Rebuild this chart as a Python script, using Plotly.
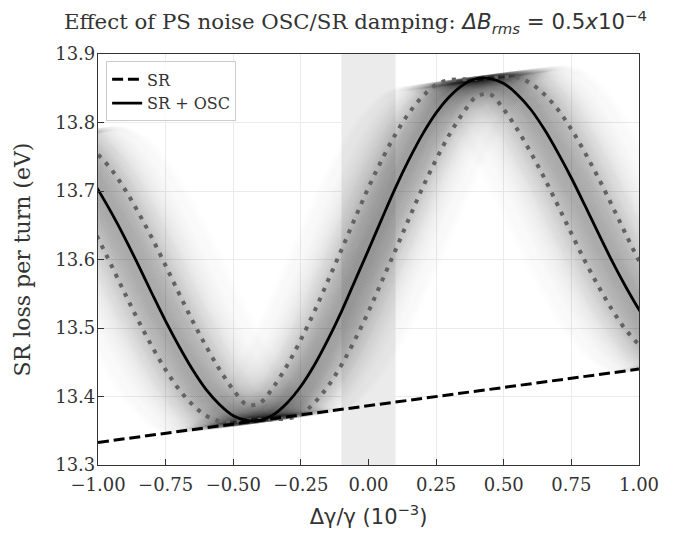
import plotly.graph_objects as go

# ---- data ----
delta_gamma = [-1.35, -1.30, -1.25, -1.20, -1.15, -1.10, -1.05, -1.00, -0.95, -0.90,
               -0.85, -0.80, -0.75, -0.70, -0.65, -0.60, -0.55, -0.50, -0.45, -0.40,
               -0.35, -0.30, -0.25, -0.20, -0.15, -0.10, -0.05, 0.00, 0.05, 0.10,
               0.15, 0.20, 0.25, 0.30, 0.35, 0.40, 0.45, 0.50, 0.55, 0.60,
               0.65, 0.70, 0.75, 0.80, 0.85, 0.90, 0.95, 1.00, 1.05, 1.10,
               1.15, 1.20, 1.25, 1.30, 1.35]

sr_plus_osc = [13.750, 13.767, 13.775, 13.776, 13.768, 13.753, 13.731, 13.702, 13.668, 13.631,
               13.591, 13.550, 13.510, 13.473, 13.439, 13.410, 13.388, 13.372, 13.365, 13.365,
               13.374, 13.391, 13.415, 13.446, 13.483, 13.524, 13.569, 13.614, 13.660, 13.705,
               13.746, 13.783, 13.814, 13.838, 13.855, 13.864, 13.864, 13.857, 13.841, 13.819,
               13.790, 13.756, 13.719, 13.679, 13.638, 13.598, 13.561, 13.527, 13.498, 13.476,
               13.461, 13.453, 13.454, 13.463, 13.480]

band_x = delta_gamma[5:50]
band_upper = [13.776, 13.768, 13.753, 13.731, 13.702, 13.668, 13.631, 13.591, 13.550, 13.510,
              13.473, 13.439, 13.410, 13.388, 13.391, 13.415, 13.446, 13.483, 13.524, 13.569,
              13.614, 13.660, 13.705, 13.746, 13.783, 13.814, 13.838, 13.855, 13.862, 13.863,
              13.864, 13.865, 13.866, 13.866, 13.857, 13.841, 13.819, 13.790, 13.756, 13.719,
              13.679, 13.638, 13.598, 13.561, 13.527]
band_lower = [13.702, 13.668, 13.631, 13.591, 13.550, 13.510, 13.473, 13.439, 13.410, 13.388,
              13.372, 13.364, 13.364, 13.365, 13.366, 13.367, 13.368, 13.374, 13.391, 13.415,
              13.446, 13.483, 13.524, 13.569, 13.614, 13.660, 13.705, 13.746, 13.783, 13.814,
              13.838, 13.841, 13.819, 13.790, 13.756, 13.719, 13.679, 13.638, 13.598, 13.561,
              13.527, 13.498, 13.476, 13.461, 13.453]

sr_x = [-1.0, -0.5, 0.0, 0.5, 1.0]
sr_only = [13.333, 13.360, 13.3865, 13.413, 13.440]

# phase-noise spread of the simulated ensemble (one side, mirrored) and its shading weight
noise_shift = [0.000, 0.006, 0.012, 0.018, 0.024, 0.030, 0.036, 0.042, 0.048, 0.054,
               0.060, 0.066, 0.072, 0.078, 0.084, 0.090, 0.096, 0.102, 0.108, 0.114,
               0.120, 0.126, 0.132, 0.138, 0.144, 0.150, 0.156, 0.162, 0.168, 0.174,
               0.180, 0.186, 0.192, 0.198, 0.204, 0.210, 0.216, 0.222, 0.228, 0.234,
               0.240, 0.246, 0.252, 0.258, 0.264, 0.270, 0.276, 0.282, 0.288, 0.294, 0.300]
noise_weight = [0.119, 0.1188, 0.1182, 0.1171, 0.1157, 0.1139, 0.1118, 0.1093, 0.1065, 0.1034,
                0.1001, 0.0965, 0.0927, 0.0888, 0.0848, 0.0807, 0.0765, 0.0724, 0.0682, 0.0640,
                0.0600, 0.0560, 0.0521, 0.0484, 0.0448, 0.0413, 0.0381, 0.0350, 0.0320, 0.0293,
                0.0268, 0.0244, 0.0222, 0.0202, 0.0184, 0.0167, 0.0152, 0.0138, 0.0125, 0.0114,
                0.0105, 0.0096, 0.0088, 0.0081, 0.0075, 0.0070, 0.0066, 0.0062, 0.0058, 0.0055, 0.0053]

x_ticks = [-1.0, -0.75, -0.5, -0.25, 0.0, 0.25, 0.5, 0.75, 1.0]
x_labels = ["\u22121.00", "\u22120.75", "\u22120.50", "\u22120.25", "0.00", "0.25", "0.50", "0.75", "1.00"]
y_ticks = [13.3, 13.4, 13.5, 13.6, 13.7, 13.8, 13.9]
y_labels = ["13.3", "13.4", "13.5", "13.6", "13.7", "13.8", "13.9"]

SERIF = "DejaVu Serif"
SANS = "DejaVu Sans"
TXT = "#333333"

# SR baseline slope (from the SR series) carries each shifted copy along the SR line
sr_slope = (sr_only[-1] - sr_only[0]) / (sr_x[-1] - sr_x[0])

pairs = [(-s, w) for s, w in zip(noise_shift[1:], noise_weight[1:])][::-1] + \
        list(zip(noise_shift, noise_weight))

fig = go.Figure()

# ensemble cloud
for d, w in pairs:
    fig.add_trace(go.Scatter(
        x=[v + d for v in delta_gamma], y=[v + sr_slope * d for v in sr_plus_osc], mode="lines",
        line=dict(color="rgba(0,0,0,%.4f)" % w, width=5, shape="spline"),
        hoverinfo="skip", showlegend=False))

# percentile curves
for yy in (band_upper, band_lower):
    fig.add_trace(go.Scatter(
        x=band_x, y=yy, mode="lines",
        line=dict(color="#626262", width=4, dash="4px,6.6px", shape="spline"),
        hoverinfo="skip", showlegend=False))

fig.add_trace(go.Scatter(x=sr_x, y=sr_only, mode="lines", name="SR",
                         line=dict(color="black", width=3, dash="11px,4.8px")))
fig.add_trace(go.Scatter(x=delta_gamma, y=sr_plus_osc, mode="lines", name="SR + OSC",
                         line=dict(color="black", width=2.8, shape="spline")))

fig.add_shape(type="rect", xref="x", yref="paper", x0=-0.1, x1=0.1, y0=0, y1=1,
              fillcolor="#ebebeb", line=dict(width=0), layer="below")

title_txt = ("Effect of PS noise OSC/SR damping: "
             "<span style='font-family:DejaVu Sans'><i>\u0394B</i><sub><i>rms</i></sub>"
             " = 0.5<i>x</i>10<sup>\u22124</sup></span>")

axis_common = dict(ticks="inside", ticklen=6, tickwidth=1, tickcolor=TXT,
                   showline=True, linecolor=TXT, linewidth=1.2, mirror=True,
                   showgrid=True, gridcolor="#ebebeb", gridwidth=1, zeroline=False,
                   tickfont=dict(family=SERIF, size=18, color=TXT))

# the page body adds an 8 px offset; figure is sized so that the axes land where the reference has them
fig.update_layout(
    width=663, height=528,
    margin=dict(l=90, r=26, t=46, b=56),
    paper_bgcolor="white", plot_bgcolor="white",
    title=dict(text=title_txt, x=0.5241, xref="container", xanchor="center",
               y=0.9735, yref="container", yanchor="middle",
               font=dict(family=SERIF, size=21.3, color=TXT)),
    xaxis=dict(range=[-1, 1], tickvals=x_ticks, ticktext=x_labels,
               ticklabelstandoff=3,
               title=dict(text="\u0394\u03b3/\u03b3 (10<sup>\u22123</sup>)", standoff=15,
                          font=dict(family=SANS, size=21, color=TXT)),
               **axis_common),
    yaxis=dict(range=[13.3, 13.9], tickvals=y_ticks, ticktext=y_labels,
               ticklabelstandoff=-2,
               title=dict(text="SR loss per turn (eV)", standoff=18,
                          font=dict(family=SERIF, size=22, color=TXT)),
               **axis_common),
    legend=dict(x=0.015, y=0.982, xanchor="left", yanchor="top",
                bgcolor="rgba(255,255,255,0.85)", bordercolor="#cccccc", borderwidth=1,
                font=dict(family=SERIF, size=16, color=TXT)),
    showlegend=True,
)

fig.write_html("out.html")
